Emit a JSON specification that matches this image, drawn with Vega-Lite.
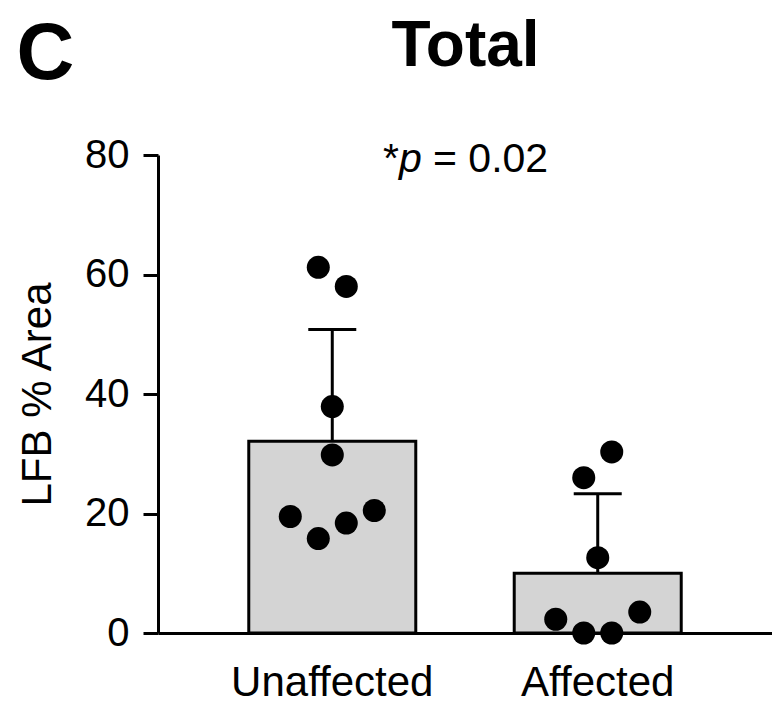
{
  "$schema": "https://vega.github.io/schema/vega-lite/v6.json",
  "autosize": {"type": "none"},
  "padding": {"left": 158, "top": 155, "right": 0, "bottom": 77},
  "width": 614,
  "height": 478,
  "background": "white",
  "title": {"text": "C", "anchor": "start", "frame": "bounds", "fontSize": 80, "fontWeight": "bold", "font": "Liberation Sans", "color": "#000", "offset": 0, "dy": 82},
  "config": {"view": {"stroke": null}, "font": "Liberation Sans"},
  "datasets": {
    "points": [
      {"group": "Unaffected", "value": 61.2, "offset": -1},
      {"group": "Unaffected", "value": 58.0, "offset": 1},
      {"group": "Unaffected", "value": 37.9, "offset": 0},
      {"group": "Unaffected", "value": 29.8, "offset": 0},
      {"group": "Unaffected", "value": 19.5, "offset": -3},
      {"group": "Unaffected", "value": 15.8, "offset": -1},
      {"group": "Unaffected", "value": 18.4, "offset": 1},
      {"group": "Unaffected", "value": 20.5, "offset": 3},
      {"group": "Affected", "value": 30.3, "offset": 1},
      {"group": "Affected", "value": 26.0, "offset": -1},
      {"group": "Affected", "value": 12.6, "offset": 0},
      {"group": "Affected", "value": 2.3, "offset": -3},
      {"group": "Affected", "value": 0.0, "offset": -1},
      {"group": "Affected", "value": 0.0, "offset": 1},
      {"group": "Affected", "value": 3.5, "offset": 3}
    ],
    "summary": [
      {"group": "Unaffected", "mean": 32.1, "upper": 50.8},
      {"group": "Affected", "mean": 10.0, "upper": 23.3}
    ],
    "note": [{"star": "*", "p": "p", "rest": "= 0.02", "y": 77.2}]
  },
  "layer": [
    {
      "data": {"name": "summary"},
      "mark": {"type": "bar", "fill": "#d4d4d4", "stroke": "#000", "strokeWidth": 3, "width": 167},
      "encoding": {
        "x": {
          "field": "group", "type": "nominal", "sort": ["Unaffected", "Affected"],
          "scale": {"paddingInner": 0.371, "paddingOuter": 0.342},
          "axis": {"orient": "bottom", "title": null, "labelAngle": 0, "labelFontSize": 42, "labelLimit": 0, "labelColor": "#000", "labelBaseline": "alphabetic", "labelPadding": 62, "ticks": false, "tickSize": 0, "domainColor": "#000", "domainWidth": 3, "grid": false}
        },
        "y": {
          "field": "mean", "type": "quantitative", "title": "LFB % Area",
          "scale": {"domain": [0, 80], "nice": false},
          "axis": {"values": [0, 20, 40, 60, 80], "grid": false, "tickSize": 15, "tickWidth": 3, "tickColor": "#000", "domainWidth": 3, "domainColor": "#000", "labelFontSize": 40, "labelColor": "#000", "labelPadding": 14, "titleFontSize": 42, "titleFontWeight": "normal", "titleColor": "#000", "titlePadding": 25}
        }
      }
    },
    {
      "data": {"name": "summary"},
      "mark": {"type": "rule", "strokeWidth": 3, "color": "#000"},
      "encoding": {
        "x": {
          "field": "group", "type": "nominal", "sort": ["Unaffected", "Affected"],
          "axis": {"orient": "top", "title": "Total", "titleFontSize": 64, "titleFontWeight": "bold", "titleColor": "#000", "titlePadding": 77, "labels": false, "ticks": false, "domain": false, "grid": false}
        },
        "y": {"field": "mean", "type": "quantitative", "title": "LFB % Area"},
        "y2": {"field": "upper"}
      }
    },
    {
      "data": {"name": "summary"},
      "mark": {"type": "tick", "size": 48, "thickness": 3, "color": "#000", "opacity": 1},
      "encoding": {
        "x": {"field": "group", "type": "nominal", "sort": ["Unaffected", "Affected"], "axis": null},
        "y": {"field": "upper", "type": "quantitative", "title": "LFB % Area"}
      }
    },
    {
      "data": {"name": "points"},
      "mark": {"type": "circle", "size": 530, "color": "#000", "opacity": 1},
      "encoding": {
        "x": {"field": "group", "type": "nominal", "sort": ["Unaffected", "Affected"], "axis": null},
        "xOffset": {"field": "offset", "type": "quantitative", "scale": {"domain": [-3, 3], "range": [41.5, 125.5]}},
        "y": {"field": "value", "type": "quantitative", "title": "LFB % Area"}
      }
    },
    {
      "data": {"name": "note"},
      "mark": {"type": "text", "fontSize": 41, "baseline": "alphabetic", "align": "right", "dx": -66, "color": "#000"},
      "encoding": {
        "text": {"field": "star"},
        "y": {"field": "y", "type": "quantitative", "title": "LFB % Area"}
      }
    },
    {
      "data": {"name": "note"},
      "mark": {"type": "text", "fontSize": 41, "fontStyle": "italic", "baseline": "alphabetic", "align": "left", "dx": -66, "color": "#000"},
      "encoding": {
        "text": {"field": "p"},
        "y": {"field": "y", "type": "quantitative", "title": "LFB % Area"}
      }
    },
    {
      "data": {"name": "note"},
      "mark": {"type": "text", "fontSize": 41, "baseline": "alphabetic", "align": "left", "dx": -32, "color": "#000"},
      "encoding": {
        "text": {"field": "rest"},
        "y": {"field": "y", "type": "quantitative", "title": "LFB % Area"}
      }
    }
  ],
  "resolve": {"axis": {"x": "independent"}}
}
